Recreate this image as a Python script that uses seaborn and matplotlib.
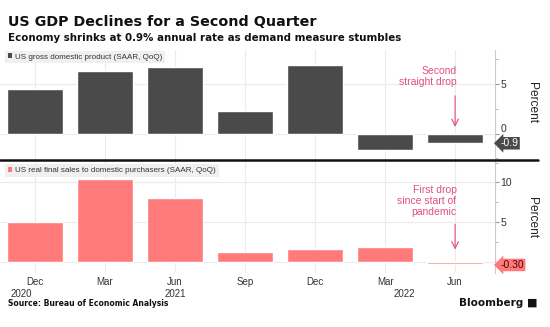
import matplotlib
matplotlib.use("Agg")
import matplotlib.pyplot as plt
import seaborn as sns
import pandas as pd
from matplotlib.patches import Patch
from matplotlib.ticker import MultipleLocator

# Quarterly data, Dec 2020 - Jun 2022
quarters = ["Dec 2020", "Mar 2021", "Jun 2021", "Sep 2021", "Dec 2021", "Mar 2022", "Jun 2022"]
month_labels = ["Dec", "Mar", "Jun", "Sep", "Dec", "Mar", "Jun"]
gdp = [4.5, 6.3, 6.7, 2.3, 6.9, -1.6, -0.9]
final_sales = [5.0, 10.4, 8.0, 1.3, 1.65, 1.9, -0.30]
year_labels = ["2020", "2021", "2022"]
year_positions = [-0.2, 2.0, 5.27]

DARK = "#4a4a4a"
PINK = "#ff7b7b"
NOTE = "#e0507a"
GRID = "#ebebeb"
SMALL = ["Liberation Sans", "DejaVu Sans"]
HEAD = ["DejaVu Sans"]

df = pd.DataFrame({"quarter": quarters, "gdp": gdp, "sales": final_sales})

sns.set_theme(style="white")
plt.rcParams["font.family"] = SMALL

fig = plt.figure(figsize=(5.5, 3.27), dpi=100)
ax1 = fig.add_axes([0.0, 1 - 160 / 327, 495 / 550, 110 / 327])
ax2 = fig.add_axes([0.0, 1 - 273 / 327, 495 / 550, 112 / 327])

sns.barplot(data=df, x="quarter", y="gdp", order=quarters, color=DARK,
            saturation=1, width=0.79, ax=ax1, zorder=3)
sns.barplot(data=df, x="quarter", y="sales", order=quarters, color=PINK,
            saturation=1, width=0.79, ax=ax2, zorder=3)

for ax, lo, hi, step in [(ax1, -2.66, 8.45, 5), (ax2, -1.4, 12.7, 5)]:
    ax.set_xlim(-0.5, 6.57)
    ax.set_ylim(lo, hi)
    ax.yaxis.tick_right()
    ax.yaxis.set_major_locator(MultipleLocator(step))
    ax.yaxis.set_minor_locator(MultipleLocator(2.5))
    ax.set_xlabel("")
    ax.set_ylabel("")
    ax.grid(True, which="major", color=GRID, lw=0.8, zorder=0)
    for s in ["top", "left", "bottom"]:
        ax.spines[s].set_visible(False)
    ax.spines["right"].set_color("#cccccc")
    ax.spines["right"].set_linewidth(0.8)
    ax.tick_params(axis="y", which="major", right=True, length=3, width=0.8,
                   color="#999999", labelsize=7.5, labelcolor="#333333", pad=1)
    ax.tick_params(axis="y", which="minor", right=True, length=2, width=0.6,
                   color="#aaaaaa")
    ax.set_facecolor("white")

ax1.set_yticks([0, 5])
ax1.set_yticklabels(["0", "5"])
ax1.get_yticklabels()[0].set_va("bottom")
ax2.set_yticks([5, 10])
ax2.set_yticklabels(["5", "10"])
ax2.axhline(0, color=GRID, lw=0.8, zorder=0)

ax1.tick_params(axis="x", length=0, labelbottom=False)
ax2.set_xticks(range(len(month_labels)))
ax2.set_xticklabels(month_labels, fontsize=7, color="#333333")
ax2.tick_params(axis="x", length=0, pad=3)
for yl, xp in zip(year_labels, year_positions):
    ax2.text(xp, -0.145, yl, transform=ax2.get_xaxis_transform(),
             ha="center", va="top", fontsize=7, color="#333333")

# Panel legends: grey box with a coloured swatch
for ax, label, col, ytop in [(ax1, "US gross domestic product (SAAR, QoQ)", DARK, 0.995),
                             (ax2, "US real final sales to domestic purchasers (SAAR, QoQ)", PINK, 0.97)]:
    leg = ax.legend(handles=[Patch(facecolor=col, edgecolor="none", label=label)],
                    loc="upper left", bbox_to_anchor=(5 / 495, ytop),
                    borderaxespad=0, frameon=True, fancybox=False,
                    facecolor="#f0f0f0", edgecolor="none", framealpha=1,
                    handlelength=0.55, handleheight=0.55, handletextpad=0.35,
                    borderpad=0.35, fontsize=5.8, labelcolor="#333333")
    leg.set_zorder(6)

# Callouts
ax1.annotate("", xy=(6, 0.4), xytext=(6, 4.1),
             arrowprops=dict(arrowstyle="->", color=NOTE, lw=0.8), zorder=5)
ax1.text(6.02, 4.7, "Second\nstraight drop", ha="right", va="bottom",
         fontsize=7.5, color=NOTE, linespacing=1.1)
ax2.annotate("", xy=(6, 1.2), xytext=(6, 5.1),
             arrowprops=dict(arrowstyle="->", color=NOTE, lw=0.8), zorder=5)
ax2.text(6.02, 5.7, "First drop\nsince start of\npandemic", ha="right",
         va="bottom", fontsize=7.5, color=NOTE, linespacing=1.1)

# Latest-value tags on the right axis
for ax, val, txt, fc, tc in [(ax1, gdp[-1], "-0.9", DARK, "white"),
                             (ax2, final_sales[-1], "-0.30", PINK, "#5a0000")]:
    ax.annotate(txt, xy=(1.0, val), xycoords=("axes fraction", "data"),
                xytext=(4, -0.5), textcoords="offset points", ha="left",
                va="center", fontsize=7.5, color=tc, annotation_clip=False,
                bbox=dict(boxstyle="larrow,pad=0.12", fc=fc, ec="none"),
                zorder=7)

# Percent labels
fig.text(532 / 550, 1 - 103 / 327, "Percent", rotation=270, ha="center",
         va="center", fontsize=8.6, color="#222222")
fig.text(532 / 550, 1 - 218 / 327, "Percent", rotation=270, ha="center",
         va="center", fontsize=8.6, color="#222222")

# Divider between panels
fig.add_artist(plt.Line2D([0, 538 / 550], [1 - 160 / 327, 1 - 160 / 327],
                          color="#111111", lw=1.8))

fig.text(8 / 550, 1 - 22 / 327, "US GDP Declines for a Second Quarter",
         fontsize=10.3, fontweight="bold", color="#111111", va="center",
         family=HEAD)
fig.text(8 / 550, 1 - 38 / 327,
         "Economy shrinks at 0.9% annual rate as demand measure stumbles",
         fontsize=7.4, fontweight="bold", color="#111111", va="center",
         family=HEAD)
fig.text(8 / 550, 1 - 303 / 327, "Source: Bureau of Economic Analysis",
         fontsize=5.5, fontweight="bold", color="#111111", va="center",
         family=HEAD)
fig.text(523 / 550, 1 - 303 / 327, "Bloomberg", fontsize=7.5, fontweight="bold",
         color="#111111", va="center", ha="right", family=HEAD)
fig.text(537 / 550, 1 - 303 / 327, "\u25a0", fontsize=8, color="#111111",
         va="center", ha="right", family=HEAD)

fig.savefig("out.png", dpi=100)
